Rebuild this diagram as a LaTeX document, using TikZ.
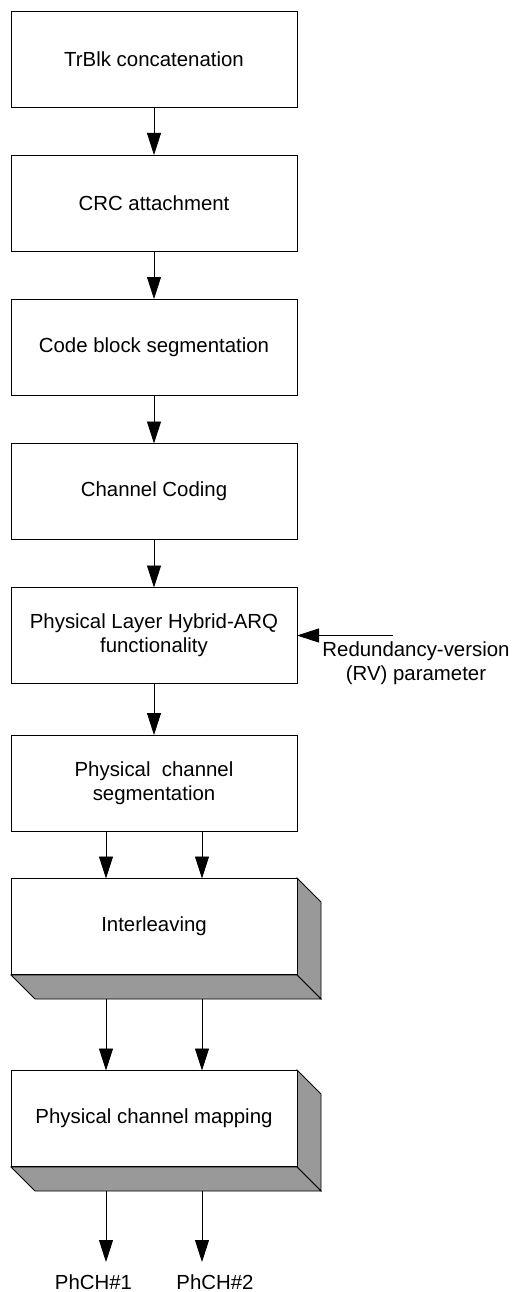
\documentclass[tikz,border=0pt]{standalone}
\usepackage{fontspec}
\setmainfont{Liberation Sans}
\usetikzlibrary{arrows.meta,calc}
\begin{document}
\begin{tikzpicture}[x=1pt,y=-1pt,
  font=\fontsize{20.4pt}{24pt}\selectfont,
  box/.style={draw,line width=0.8pt,fill=white,minimum width=286pt,minimum height=96pt,inner sep=0pt,outer sep=0pt,align=center},
  face/.style={draw,line width=0.8pt,fill=black!40},
  arr/.style={line width=0.8pt,-{Triangle[length=22pt,width=14pt]}},
  lbl/.style={inner sep=0pt,align=center}]
\useasboundingbox (0,0) rectangle (511,1292);
\node[box] (b1) at (154,59) {TrBlk concatenation};
\node[box] (b2) at (154,203) {CRC attachment};
\node[box] (b3) at (154,347) {Code block segmentation};
\node[box] (b4) at (154,491.5) {Channel Coding};
\node[box] (b5) at (154,635.5) {Physical Layer Hybrid-ARQ\\functionality};
\node[box] (b6) at (154,783) {Physical\ \ channel\\segmentation};
% 3D boxes
\path[face] (297,878) -- (321,902) -- (321,999) -- (297,975) -- cycle;
\path[face] (11,975) -- (297,975) -- (321,999) -- (35,999) -- cycle;
\node[box] (b7) at (154,926.5) {Interleaving};
\path[face] (297,1070) -- (321,1094) -- (321,1191) -- (297,1167) -- cycle;
\path[face] (11,1167) -- (297,1167) -- (321,1191) -- (35,1191) -- cycle;
\node[box] (b8) at (154,1118.5) {Physical channel mapping};
\coordinate (b7a) at (106,999);
\coordinate (b7b) at (202,999);
\coordinate (b8a) at (106,1191);
\coordinate (b8b) at (202,1191);
\coordinate (o1) at (106,1262);
\coordinate (o2) at (202,1262);
\coordinate (rvs) at (393,635.5);
% arrows
\draw[arr] (b1) -- (b2);
\draw[arr] (b2) -- (b3);
\draw[arr] (b3) -- (b4);
\draw[arr] (b4) -- (b5);
\draw[arr] (b5) -- (b6);
\draw[arr] (b6.south -| b7a) -- (b7.north -| b7a);
\draw[arr] (b6.south -| b7b) -- (b7.north -| b7b);
\draw[arr] (b7a) -- (b8.north -| b7a);
\draw[arr] (b7b) -- (b8.north -| b7b);
\draw[arr] (b8a) -- (o1);
\draw[arr] (b8b) -- (o2);
\draw[arr] (rvs) -- (b5.east);
% labels
\node[lbl,anchor=north] (rv) at (416,642) {Redundancy-version\\(RV) parameter};
\node[lbl] (p1) at (93.5,1282) {PhCH\#1};
\node[lbl] (p2) at (215,1282) {PhCH\#2};
\end{tikzpicture}
\end{document}
